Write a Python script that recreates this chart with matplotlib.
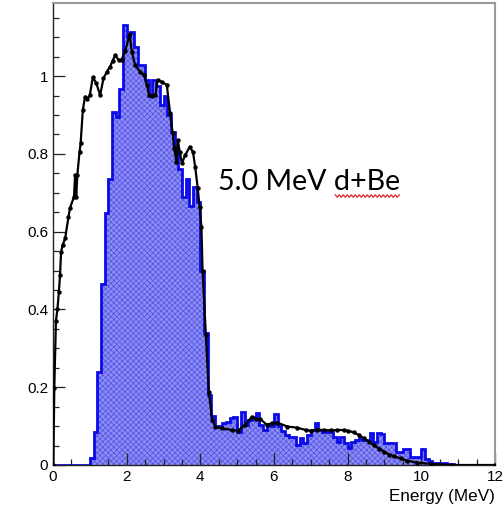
import numpy as np
import matplotlib
matplotlib.use("Agg")
import matplotlib.pyplot as plt
from matplotlib.ticker import MultipleLocator, FuncFormatter
from matplotlib.lines import Line2D

# blue histogram: 0.1 MeV bins, first bin starts at 1.0 MeV
BIN = 0.1
hist_start = 1.0
hist_vals = [
    0.018, 0.086, 0.24, 0.465, 0.649, 0.735, 0.908, 0.895, 0.968, 1.131,   # 1.0-1.9
    1.10, 1.114, 1.075, 1.028, 1.028, 0.99, 0.95, 0.99, 0.975, 0.925,      # 2.0-2.9
    0.95, 0.90, 0.855, 0.805, 0.76, 0.69, 0.735, 0.665, 0.715, 0.675,      # 3.0-3.9
    0.50, 0.34, 0.18, 0.125, 0.10, 0.10, 0.107, 0.111, 0.12, 0.124,        # 4.0-4.9
    0.086, 0.136, 0.102, 0.116, 0.124, 0.133, 0.103, 0.09, 0.103, 0.10,    # 5.0-5.9
    0.13, 0.10, 0.088, 0.077, 0.073, 0.073, 0.051, 0.069, 0.056, 0.077,    # 6.0-6.9
    0.09, 0.107, 0.09, 0.086, 0.086, 0.086, 0.073, 0.06, 0.073, 0.056,     # 7.0-7.9
    0.045, 0.06, 0.064, 0.069, 0.064, 0.064, 0.083, 0.06, 0.083, 0.08,     # 8.0-8.9
    0.057, 0.057, 0.057, 0.034, 0.034, 0.04, 0.04, 0.021, 0.021, 0.021,    # 9.0-9.9
    0.041, 0.015, 0.01, 0.006, 0.005, 0.004, 0.004, 0.003, 0.002, 0.001,   # 10.0-10.9
]

curve_e = [0.0, 0.01, 0.035, 0.08, 0.12, 0.16, 0.19, 0.22, 0.26, 0.33, 0.42, 0.46,
           0.57, 0.60, 0.63, 0.66, 0.72, 0.75, 0.81, 0.87, 0.93, 1.0, 1.08, 1.17,
           1.28, 1.37, 1.46, 1.55, 1.62, 1.69, 1.78, 1.86, 1.96, 2.08, 2.14, 2.23,
           2.37, 2.48, 2.55, 2.61, 2.70, 2.78, 2.84, 2.96, 3.09, 3.18, 3.25, 3.29,
           3.35, 3.39, 3.44, 3.50, 3.59, 3.71, 3.80, 3.86, 3.93, 3.98, 4.03, 4.06,
           4.15, 4.23, 4.32, 4.41, 4.59, 4.86, 5.02, 5.22, 5.40, 5.50, 5.63, 5.80,
           5.95, 6.09, 6.36, 6.63, 6.86, 7.0, 7.18, 7.36, 7.54, 7.72, 7.90, 8.0,
           8.17, 8.30, 8.44, 8.58, 8.72, 8.86, 8.99, 9.13, 9.26, 9.44, 9.62, 9.89,
           10.26, 10.8, 12.0]
curve_v = [0.0, 0.0, 0.197, 0.371, 0.40, 0.445, 0.488, 0.548, 0.565, 0.583, 0.638, 0.66,
           0.69, 0.745, 0.69, 0.745, 0.805, 0.827, 0.913, 0.947, 0.941, 0.951, 0.997, 0.983,
           0.951, 0.994, 1.011, 1.024, 1.04, 1.054, 1.041, 1.042, 1.064, 1.108, 1.062, 1.028,
           1.011, 1.003, 0.977, 0.951, 0.95, 0.951, 0.99, 0.985, 0.977, 0.904, 0.853, 0.814,
           0.78, 0.835, 0.805, 0.776, 0.797, 0.818, 0.805, 0.767, 0.711, 0.664, 0.613, 0.50,
           0.334, 0.188, 0.116, 0.098, 0.094, 0.09, 0.088, 0.104, 0.124, 0.118, 0.118, 0.104,
           0.107, 0.109, 0.099, 0.096, 0.09, 0.088, 0.091, 0.09, 0.089, 0.09, 0.09, 0.088,
           0.084, 0.077, 0.069, 0.06, 0.051, 0.042, 0.034, 0.027, 0.022, 0.017, 0.011, 0.006,
           0.003, 0.0, 0.0]

label_text = "5.0 MeV d+Be"
label_pos = (4.49, 0.707)

W, H = 503, 509
fig = plt.figure(figsize=(W / 100, H / 100), dpi=100)
ax = fig.add_axes([53 / W, 44 / H, 442 / W, 462 / H])

# pad histogram with empty bins over the full 0-12 MeV axis
edges = np.round(np.arange(0, 12 + BIN / 2, BIN), 2)
counts = np.zeros(len(edges) - 1)
i0 = int(round(hist_start / BIN))
counts[i0:i0 + len(hist_vals)] = hist_vals

plt.rcParams["hatch.linewidth"] = 0.5
ax.stairs(counts, edges, fill=True, facecolor="#8c8cf2", edgecolor="#5050e8",
          hatch="xxxxxx", linewidth=0, zorder=1)
ax.stairs(counts, edges, color="#0a0ae8", linewidth=2.0, zorder=2)
ax.plot(curve_e, curve_v, "-o", color="black", lw=1.6, ms=2.2, zorder=3)

ax.set_xlim(0, 12)
ax.set_ylim(0, 1.188)
ax.xaxis.set_major_locator(MultipleLocator(2))
ax.xaxis.set_minor_locator(MultipleLocator(0.5))
ax.yaxis.set_major_locator(MultipleLocator(0.2))
ax.yaxis.set_minor_locator(MultipleLocator(0.05))
ax.yaxis.set_major_formatter(FuncFormatter(lambda v, p: f"{v:g}"))
ax.xaxis.set_major_formatter(FuncFormatter(lambda v, p: f"{v:g}"))
ax.tick_params(which="both", direction="in", top=False, right=False,
               labelsize=11, pad=3.5, color="#222222")
ax.tick_params(which="major", length=8.8, width=0.9)
ax.tick_params(which="minor", length=4.4, width=0.9)
for lab in ax.get_xticklabels() + ax.get_yticklabels():
    lab.set_fontfamily("Liberation Sans")
for side in ("left", "bottom"):
    ax.spines[side].set_color("#222222")
    ax.spines[side].set_linewidth(1.0)
for side in ("top", "right"):
    ax.spines[side].set_color("#9a9a9a")
    ax.spines[side].set_linewidth(1.5)

fig.text(495 / W, 13 / H, "Energy (MeV)", ha="right", va="center",
         fontsize=12.3, family="Liberation Sans")

t = ax.text(*label_pos, label_text, fontsize=20.6, family="Lato",
            ha="left", va="baseline", zorder=4)

# red spell-check squiggle under "d+Be"
fig.canvas.draw()
r = fig.canvas.get_renderer()
full_bb = t.get_window_extent(r)
pre = ax.text(*label_pos, "5.0 MeV ", fontsize=20.6, family="Lato",
              ha="left", va="baseline")
pre_bb = pre.get_window_extent(r)
pre.remove()
x0, x1 = pre_bb.x1 + 1, full_bb.x1
ybase = full_bb.y0 - 1
xs = np.arange(x0, x1, 2.0)
ys = ybase + np.where(np.arange(len(xs)) % 2 == 0, 1.2, -1.2)
fig.add_artist(Line2D(xs, ys, transform=None, color="#e02020", lw=0.9))

fig.savefig("out.png", dpi=100)
